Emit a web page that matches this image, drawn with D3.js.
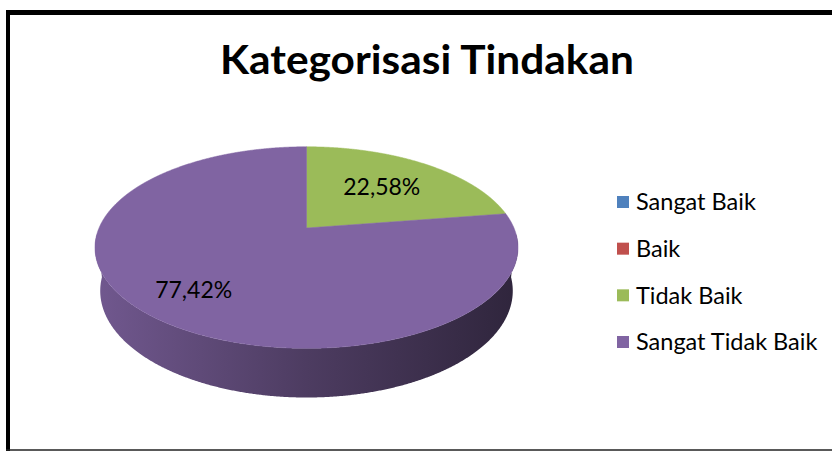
<!DOCTYPE html>
<html><head><meta charset="utf-8">
<script src="https://cdn.jsdelivr.net/npm/d3@7"></script>
<style>body{margin:0;background:#fff;overflow:hidden}</style>
</head><body>
<svg id="c" width="832" height="451"></svg>
<script>
const title = "Kategorisasi Tindakan";
const categories = ["Sangat Baik", "Baik", "Tidak Baik", "Sangat Tidak Baik"];
const values = [0, 0, 22.58, 77.42];
const valueLabels = ["0,00%", "0,00%", "22,58%", "77,42%"];
const colors = ["#4f81bd", "#c0504d", "#9bbb59", "#8064a2"];

const svg = d3.select("#c");
const FONT = "Lato, 'Open Sans', sans-serif";

// frame
svg.append("rect").attr("width", 832).attr("height", 451).attr("fill", "#fff");
svg.append("line").attr("x1", 8).attr("x2", 8).attr("y1", 10).attr("y2", 451)
  .attr("stroke", "#000").attr("stroke-width", 4);
svg.append("line").attr("x1", 6).attr("x2", 832).attr("y1", 12.5).attr("y2", 12.5)
  .attr("stroke", "#000").attr("stroke-width", 5);
svg.append("line").attr("x1", 6).attr("x2", 832).attr("y1", 450).attr("y2", 450)
  .attr("stroke", "#222").attr("stroke-width", 1.5);

// title
svg.append("text").attr("x", 427).attr("y", 74).attr("text-anchor", "middle")
  .attr("font-family", FONT).attr("font-weight", "bold").attr("font-size", 40)
  .attr("textLength", 414).attr("lengthAdjust", "spacingAndGlyphs")
  .attr("fill", "#000").text(title);

// 3D perspective projection of a unit-radius pie
const cx = 306.5, cy = 228, S = 207.5;
const sinA = 0.4675, cosA = Math.sqrt(1 - sinA * sinA);
const RD = 0.2195, H = 0.2386;
function proj(x, y, z) {
  const q = 1 + RD * (-y * sinA + z * cosA);
  return [cx + S * x / q, cy - S * (y * cosA + z * sinA) / q];
}

const pie = d3.pie().sort(null).value(d => d);
const arcs = pie(values);
const line = d3.line();

// side gradients (horizontal shading, light left -> dark right)
const xL = cx - 211.5, xR = cx + 211.5;
const defs = svg.append("defs");
colors.forEach((c, i) => {
  const b = d3.rgb(c);
  const g = defs.append("linearGradient").attr("id", "side" + i)
    .attr("gradientUnits", "userSpaceOnUse")
    .attr("x1", xL).attr("x2", xR).attr("y1", 0).attr("y2", 0);
  [[0, 0.88], [0.5, 0.6], [1, 0.37]].forEach(([o, f]) => {
    g.append("stop").attr("offset", o)
      .attr("stop-color", d3.rgb(b.r * f, b.g * f, b.b * f).formatHex());
  });
});

// side walls: one path per slice over its front-facing angular range
const visLo = Math.PI * 0.52, visHi = Math.PI * 1.48;
const walls = [];
arcs.forEach((a, i) => {
  if (a.value <= 0) return;
  const lo = Math.max(a.startAngle, visLo), hi = Math.min(a.endAngle, visHi);
  if (hi <= lo) return;
  const n = Math.max(2, Math.ceil((hi - lo) / 0.005));
  const topPts = [], botPts = [];
  for (let k = 0; k <= n; k++) {
    const ang = lo + (hi - lo) * k / n;
    topPts.push(proj(Math.sin(ang), 0, Math.cos(ang)));
    botPts.push(proj(Math.sin(ang), -H, Math.cos(ang)));
  }
  const mid = (lo + hi) / 2;
  walls.push({i, pts: topPts.concat(botPts.reverse()), d: Math.cos(mid)});
});
walls.sort((p, q) => q.d - p.d);
svg.append("g").selectAll("path").data(walls).join("path")
  .attr("d", w => line(w.pts) + "Z")
  .attr("fill", w => `url(#side${w.i})`);

// top faces
const topG = svg.append("g");
arcs.forEach((a, i) => {
  if (a.value <= 0) return;
  const n = Math.max(2, Math.ceil((a.endAngle - a.startAngle) / 0.005));
  const pts = [proj(0, 0, 0)];
  for (let k = 0; k <= n; k++) {
    const ang = a.startAngle + (a.endAngle - a.startAngle) * k / n;
    pts.push(proj(Math.sin(ang), 0, Math.cos(ang)));
  }
  topG.append("path").attr("d", line(pts) + "Z")
    .attr("fill", colors[i]).attr("stroke", colors[i]).attr("stroke-width", 0.5);
});

// data labels
arcs.forEach((a, i) => {
  if (a.value <= 0) return;
  const mid = (a.startAngle + a.endAngle) / 2;
  const frac = (a.endAngle - a.startAngle) / (2 * Math.PI);
  const r = 0.55 + 0.25 * frac;
  const p = proj(r * Math.sin(mid), 0, r * Math.cos(mid));
  svg.append("text").attr("x", p[0]).attr("y", p[1]).attr("dy", "0.35em")
    .attr("text-anchor", "middle").attr("font-family", FONT).attr("font-size", 23)
    .attr("fill", "#000").text(valueLabels[i]);
});

// legend
const ly = d3.scalePoint().domain(categories).range([202, 342]);
const lg = svg.append("g").selectAll("g").data(categories).join("g")
  .attr("transform", d => `translate(617,${ly(d)})`);
lg.append("rect").attr("x", 0).attr("y", -6).attr("width", 12).attr("height", 12)
  .attr("fill", (d, i) => colors[i]);
lg.append("text").attr("x", 19).attr("dy", "0.35em").attr("font-family", FONT)
  .attr("font-size", 23.5).attr("fill", "#000").text(d => d);
</script>
</body></html>
